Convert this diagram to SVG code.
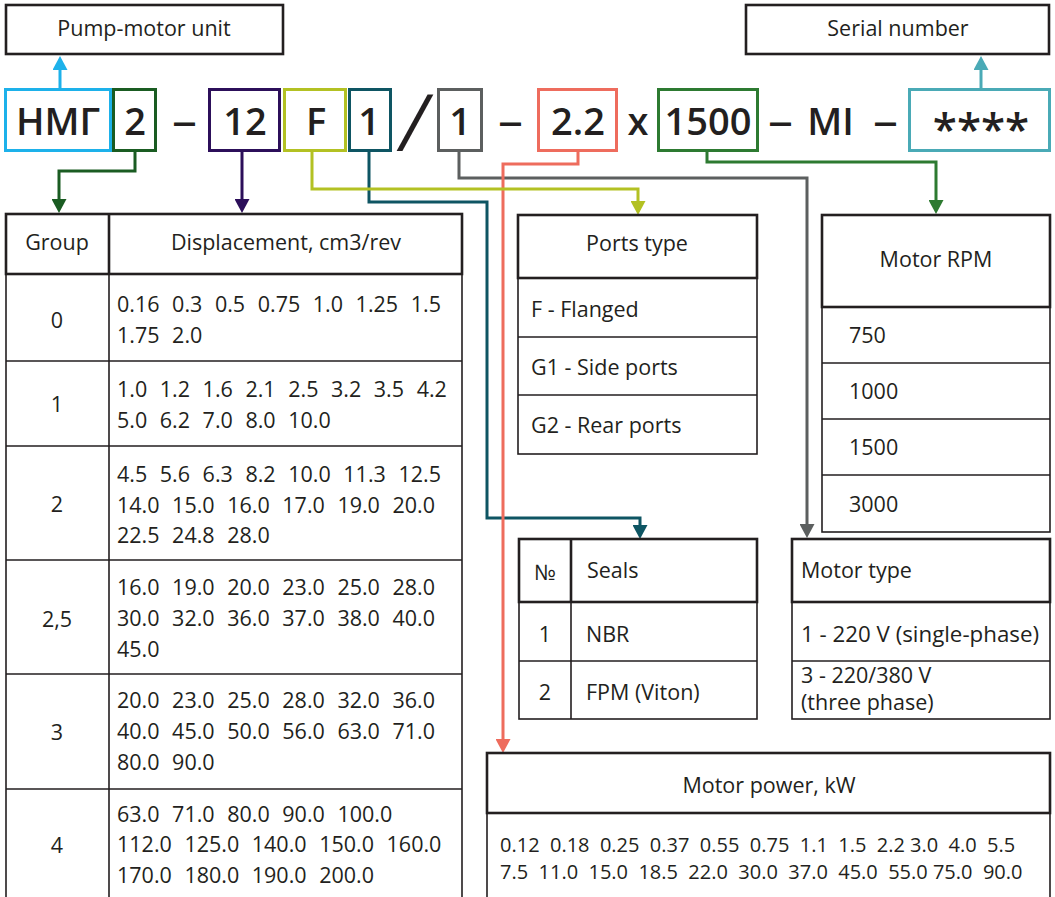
<svg xmlns="http://www.w3.org/2000/svg" width="1055" height="897" viewBox="0 0 1055 897">
<style>
.t{font-family:"Open Sans","Noto Sans","DejaVu Sans",sans-serif;font-size:21.5px;fill:#231F20;white-space:pre}
.s{font-size:20px}
.w{word-spacing:0.7px}
.c{text-anchor:middle}
.code{font-size:38px;font-weight:600}
.hd{fill:none;stroke:#231F20;stroke-width:2.6}
.ln{fill:none;stroke:#231F20;stroke-width:1.6}
.box{fill:#fff;stroke-width:3}
.cn{fill:none;stroke-width:3}
</style>
<defs>
<marker id="a-blue" markerUnits="userSpaceOnUse" viewBox="0 0 14 15" markerWidth="14" markerHeight="15" refX="10" refY="7.5" orient="auto"><path d="M0,0 L14,7.5 L0,15 Z" fill="#1DB1EA"/></marker>
<marker id="a-serial" markerUnits="userSpaceOnUse" viewBox="0 0 14 15" markerWidth="14" markerHeight="15" refX="10" refY="7.5" orient="auto"><path d="M0,0 L14,7.5 L0,15 Z" fill="#4AAAB6"/></marker>
<marker id="a-dgreen" markerUnits="userSpaceOnUse" viewBox="0 0 14 15" markerWidth="14" markerHeight="15" refX="10" refY="7.5" orient="auto"><path d="M0,0 L14,7.5 L0,15 Z" fill="#1A5C22"/></marker>
<marker id="a-purple" markerUnits="userSpaceOnUse" viewBox="0 0 14 15" markerWidth="14" markerHeight="15" refX="10" refY="7.5" orient="auto"><path d="M0,0 L14,7.5 L0,15 Z" fill="#2C0F5A"/></marker>
<marker id="a-yellow" markerUnits="userSpaceOnUse" viewBox="0 0 14 15" markerWidth="14" markerHeight="15" refX="10" refY="7.5" orient="auto"><path d="M0,0 L14,7.5 L0,15 Z" fill="#B3C123"/></marker>
<marker id="a-teal" markerUnits="userSpaceOnUse" viewBox="0 0 14 15" markerWidth="14" markerHeight="15" refX="10" refY="7.5" orient="auto"><path d="M0,0 L14,7.5 L0,15 Z" fill="#0E5563"/></marker>
<marker id="a-gray" markerUnits="userSpaceOnUse" viewBox="0 0 14 15" markerWidth="14" markerHeight="15" refX="10" refY="7.5" orient="auto"><path d="M0,0 L14,7.5 L0,15 Z" fill="#5C5F5F"/></marker>
<marker id="a-salmon" markerUnits="userSpaceOnUse" viewBox="0 0 14 15" markerWidth="14" markerHeight="15" refX="10" refY="7.5" orient="auto"><path d="M0,0 L14,7.5 L0,15 Z" fill="#EE6C5D"/></marker>
<marker id="a-green" markerUnits="userSpaceOnUse" viewBox="0 0 14 15" markerWidth="14" markerHeight="15" refX="10" refY="7.5" orient="auto"><path d="M0,0 L14,7.5 L0,15 Z" fill="#2D7A31"/></marker>
</defs>
<rect width="1055" height="897" fill="#fff"/>

<g id="connectors">
<path class="cn" stroke="#1DB1EA" d="M60,89 V60" marker-end="url(#a-blue)"/>
<path class="cn" stroke="#4AAAB6" d="M981,89 V60" marker-end="url(#a-serial)"/>
<path class="cn" stroke="#1A5C22" d="M135,151 V171 H59 V209" marker-end="url(#a-dgreen)"/>
<path class="cn" stroke="#2C0F5A" d="M242,151 V209" marker-end="url(#a-purple)"/>
<path class="cn" stroke="#5C5F5F" d="M459,151 V178 H807 V534" marker-end="url(#a-gray)"/>
<path class="cn" stroke="#0E5563" d="M369,151 V202 H487 V518 H640 V535" marker-end="url(#a-teal)"/>
<path class="cn" stroke="#EE6C5D" d="M578,151 V164 H503 V749" marker-end="url(#a-salmon)"/>
<path class="cn" stroke="#B3C123" d="M312,151 V189 H638 V211" marker-end="url(#a-yellow)"/>
<path class="cn" stroke="#2D7A31" d="M707,151 V162 H936 V210" marker-end="url(#a-green)"/>
</g>

<g id="n-pump-motor-unit">
<rect x="6" y="5" width="277" height="49" class="hd" stroke-width="2.2"/>
<text class="t c" x="144" y="36">Pump-motor unit</text>
</g>
<g id="n-serial-number">
<rect x="746" y="5" width="303" height="49" class="hd" stroke-width="2.2"/>
<text class="t c" x="898" y="36">Serial number</text>
</g>

<g id="code-nmg"><rect class="box" x="5.5" y="89.5" width="105" height="61" stroke="#1DB1EA"/><text class="t c code" x="58" y="135">НМГ</text></g>
<g id="code-group"><rect class="box" x="113.5" y="89.5" width="42" height="61" stroke="#1A5C22"/><text class="t c code" x="135" y="135">2</text></g>
<g id="code-displacement"><rect class="box" x="209.5" y="89.5" width="70" height="61" stroke="#2C0F5A"/><text class="t c code" x="245" y="135">12</text></g>
<g id="code-ports"><rect class="box" x="284.5" y="89.5" width="61" height="61" stroke="#B3C123"/><text class="t c code" x="316" y="135">F</text></g>
<g id="code-seals"><rect class="box" x="349.5" y="89.5" width="41" height="61" stroke="#0E5563"/><text class="t c code" x="369" y="135">1</text></g>
<g id="code-motor-type"><rect class="box" x="438.5" y="89.5" width="43" height="61" stroke="#5C5F5F"/><text class="t c code" x="460" y="135">1</text></g>
<g id="code-power"><rect class="box" x="538.5" y="89.5" width="78" height="61" stroke="#EE6C5D"/><text class="t c code" x="578" y="135">2.2</text></g>
<g id="code-rpm"><rect class="box" x="658.5" y="89.5" width="99" height="61" stroke="#2D7A31"/><text class="t c code" x="708" y="135">1500</text></g>
<g id="code-serial"><rect class="box" x="909.5" y="89.5" width="140" height="61" stroke="#4AAAB6"/><text class="t c code" x="981" y="145" style="font-size:44px">****</text></g>
<g id="code-separators">
<text class="t c code" x="184.5" y="134" textLength="25" lengthAdjust="spacingAndGlyphs">–</text>
<text class="t c" transform="translate(415,151) scale(1.45,1)" x="0" y="0" style="font-size:80px;font-weight:300">/</text>
<text class="t c code" x="510.5" y="134" textLength="25" lengthAdjust="spacingAndGlyphs">–</text>
<text class="t c code" x="638" y="135">x</text>
<text class="t c code" x="780.5" y="134" textLength="25" lengthAdjust="spacingAndGlyphs">–</text>
<text class="t c code" x="830.5" y="135">MI</text>
<text class="t c code" x="885.5" y="134" textLength="25" lengthAdjust="spacingAndGlyphs">–</text>
</g>

<g id="t-displacement">
<path class="ln" d="M6,274 V900 M462,274 V900 M109,274 V900 M6,361 H462 M6,446 H462 M6,560 H462 M6,674 H462 M6,789 H462"/>
<rect class="hd" x="6" y="214" width="456" height="60"/>
<path class="hd" d="M109,214 V274"/>
<text class="t c" x="57" y="250">Group</text>
<text class="t c" x="286" y="250">Displacement, cm3/rev</text>
<text class="t c" x="57" y="328">0</text>
<text class="t w" x="117" y="312">0.16  0.3  0.5  0.75  1.0  1.25  1.5</text>
<text class="t w" x="117" y="343">1.75  2.0</text>
<text class="t c" x="57" y="412">1</text>
<text class="t w" x="117" y="397">1.0  1.2  1.6  2.1  2.5  3.2  3.5  4.2</text>
<text class="t w" x="117" y="428">5.0  6.2  7.0  8.0  10.0</text>
<text class="t c" x="57" y="512">2</text>
<text class="t w" x="117" y="482">4.5  5.6  6.3  8.2  10.0  11.3  12.5</text>
<text class="t w" x="117" y="513">14.0  15.0  16.0  17.0  19.0  20.0</text>
<text class="t w" x="117" y="543">22.5  24.8  28.0</text>
<text class="t c" x="57" y="627">2,5</text>
<text class="t w" x="117" y="595">16.0  19.0  20.0  23.0  25.0  28.0</text>
<text class="t w" x="117" y="626">30.0  32.0  36.0  37.0  38.0  40.0</text>
<text class="t w" x="117" y="657">45.0</text>
<text class="t c" x="57" y="740">3</text>
<text class="t w" x="117" y="708">20.0  23.0  25.0  28.0  32.0  36.0</text>
<text class="t w" x="117" y="739">40.0  45.0  50.0  56.0  63.0  71.0</text>
<text class="t w" x="117" y="770">80.0  90.0</text>
<text class="t c" x="57" y="853">4</text>
<text class="t w" x="117" y="822">63.0  71.0  80.0  90.0  100.0</text>
<text class="t w" x="117" y="852">112.0  125.0  140.0  150.0  160.0</text>
<text class="t w" x="117" y="883">170.0  180.0  190.0  200.0</text>
</g>

<g id="t-ports-type">
<rect class="ln" x="518" y="278" width="239" height="176"/>
<path class="ln" d="M518,337 H757 M518,395 H757"/>
<rect class="hd" x="518" y="215" width="239" height="63"/>
<text class="t c" x="637" y="251">Ports type</text>
<text class="t" x="531" y="317">F - Flanged</text>
<text class="t" x="531" y="375">G1 - Side ports</text>
<text class="t" x="531" y="433">G2 - Rear ports</text>
</g>

<g id="t-motor-rpm">
<rect class="ln" x="822" y="307" width="228" height="225"/>
<path class="ln" d="M822,363 H1050 M822,419 H1050 M822,475 H1050"/>
<rect class="hd" x="822" y="215" width="228" height="92"/>
<text class="t c" x="936" y="267">Motor RPM</text>
<text class="t" x="849" y="343">750</text>
<text class="t" x="849" y="399">1000</text>
<text class="t" x="849" y="455">1500</text>
<text class="t" x="849" y="512">3000</text>
</g>

<g id="t-seals">
<rect class="ln" x="519" y="602" width="238" height="117"/>
<path class="ln" d="M519,661 H757 M571,602 V719"/>
<rect class="hd" x="519" y="539" width="238" height="63"/>
<path class="hd" d="M571,539 V602"/>
<text class="t c" x="545" y="580">№</text>
<text class="t" x="587" y="578">Seals</text>
<text class="t c" x="545" y="642">1</text>
<text class="t" x="586" y="642">NBR</text>
<text class="t c" x="545" y="700">2</text>
<text class="t" x="586" y="700">FPM (Viton)</text>
</g>

<g id="t-motor-type">
<rect class="ln" x="792" y="602" width="258" height="117"/>
<path class="ln" d="M792,661 H1050"/>
<rect class="hd" x="792" y="539" width="258" height="63"/>
<text class="t" x="801" y="578">Motor type</text>
<text class="t" x="801" y="642" style="font-size:22.3px">1 - 220 V (single-phase)</text>
<text class="t" x="801" y="683">3 - 220/380 V</text>
<text class="t" x="801" y="710">(three phase)</text>
</g>

<g id="t-motor-power">
<path class="ln" d="M487,813 V900 M1050,813 V900"/>
<rect class="hd" x="487" y="753" width="563" height="60"/>
<text class="t c" x="769" y="793">Motor power, kW</text>
<text class="t s" x="500" y="852">0.12  0.18  0.25  0.37  0.55  0.75  1.1  1.5  2.2 3.0  4.0  5.5</text>
<text class="t s" x="500" y="879">7.5  11.0  15.0  18.5  22.0  30.0  37.0  45.0  55.0 75.0  90.0</text>
</g>
</svg>
